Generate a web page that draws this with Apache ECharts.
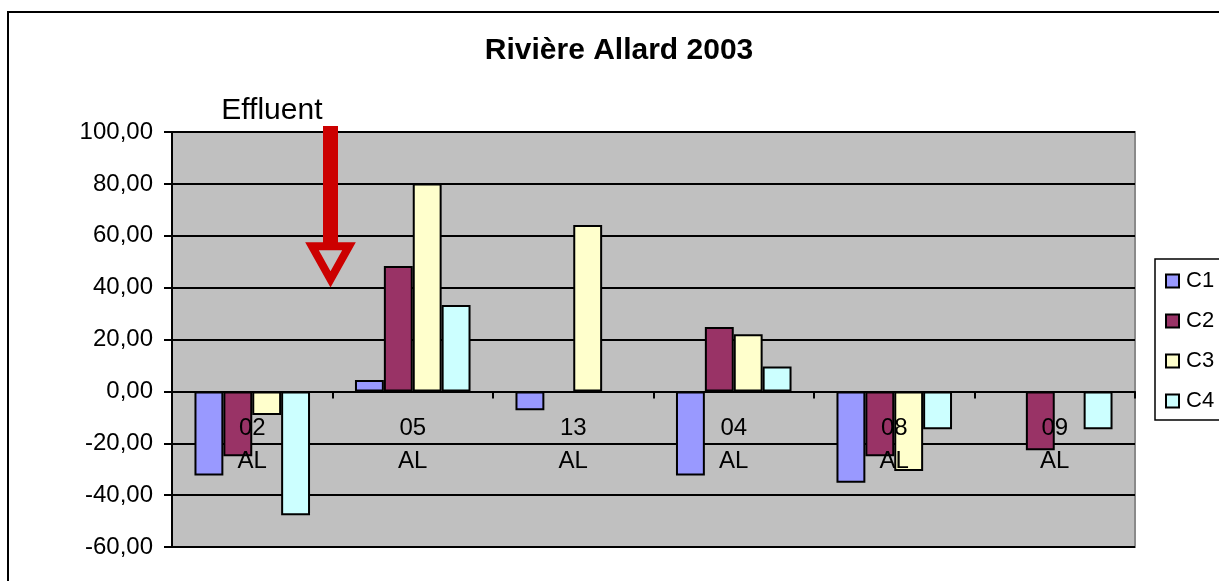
<!DOCTYPE html>
<html>
<head>
<meta charset="utf-8">
<script src="https://cdn.jsdelivr.net/npm/echarts@6/dist/echarts.min.js"></script>
<style>
html,body{margin:0;padding:0;background:#fff;}
#chart{width:1219px;height:581px;}
</style>
</head>
<body>
<div id="chart"></div>
<script>
const categories = ['02\nAL', '05\nAL', '13\nAL', '04\nAL', '08\nAL', '09\nAL'];
const seriesNames = ['C1', 'C2', 'C3', 'C4'];
const c1 = [-32.4, 4.4, -7.3, -32.4, -35.2, null];
const c2 = [-25.0, 48.3, null, 24.8, -25.0, -22.7];
const c3 = [-9.1, 80.1, 64.1, 22.0, -30.7, null];
const c4 = [-47.8, 33.3, null, 9.6, -14.6, -14.6];
const yTicks = { min: -60, max: 100, interval: 20 };
const colors = ['#9999FF', '#993366', '#FFFFCC', '#CCFFFF'];

const seriesData = [c1, c2, c3, c4];
const FONT = '"Liberation Sans", Arial, sans-serif';

const chart = echarts.init(document.getElementById('chart'), null, { renderer: 'canvas' });

const option = {
  backgroundColor: '#ffffff',
  animation: false,
  title: {
    text: 'Rivière Allard 2003',
    left: 614, top: 31, textAlign: 'center',
    textStyle: { fontFamily: FONT, fontSize: 30, fontWeight: 'bold', color: '#000' }
  },
  legend: {
    orient: 'vertical',
    left: 1155, top: 259,
    padding: [11, 10, 8, 10],
    itemGap: 18,
    itemWidth: 13, itemHeight: 13,
    borderColor: '#000', borderWidth: 1.5,
    textStyle: { fontFamily: FONT, fontSize: 22, color: '#000', padding: [0, 0, 0, 2] },
    data: seriesNames.map(n => ({ name: n, icon: 'rect' }))
  },
  grid: {
    left: 172, right: 84, top: 132, bottom: 34,
    containLabel: false, outerBoundsMode: 'none',
    show: true, backgroundColor: '#C0C0C0', borderColor: '#8a8a8a', borderWidth: 2
  },
  xAxis: [
    {
      type: 'category',
      data: categories,
      z: 10,
      axisLine: { onZero: true, lineStyle: { color: '#000', width: 2 } },
      axisTick: { show: true, inside: false, length: 7, lineStyle: { color: '#000', width: 2 } },
      axisLabel: { show: false },
      splitLine: { show: false }
    },
    {
      type: 'category',
      data: categories,
      position: 'bottom',
      offset: 0,
      z: 10,
      axisLine: { show: false, onZero: false },
      axisTick: { show: false },
      axisLabel: {
        fontFamily: FONT, fontSize: 24, color: '#000',
        lineHeight: 33, margin: 20
      },
      splitLine: { show: false }
    }
  ],
  yAxis: {
    type: 'value',
    min: yTicks.min, max: yTicks.max, interval: yTicks.interval,
    axisLine: { show: true, onZero: false, lineStyle: { color: '#000', width: 2 } },
    axisTick: { show: true, length: 8, lineStyle: { color: '#000', width: 2 } },
    axisLabel: {
      fontFamily: FONT, fontSize: 24, color: '#000', margin: 19,
      formatter: v => v.toFixed(2).replace('.', ',')
    },
    splitLine: { show: true, lineStyle: { color: '#000', width: 2 } }
  },
  series: seriesNames.map((n, i) => ({
    name: n,
    type: 'bar',
    xAxisIndex: 0,
    data: seriesData[i],
    barGap: '0%',
    barCategoryGap: '28%',
    itemStyle: { color: colors[i], borderColor: '#000', borderWidth: 2 }
  }))
};

chart.setOption(option);

// Position the category labels next to the zero line, using the chart's own scale
const yZero = chart.convertToPixel({ yAxisIndex: 0 }, 0);
const yBottom = chart.convertToPixel({ yAxisIndex: 0 }, yTicks.min);
chart.setOption({ xAxis: [{}, { offset: -(yBottom - yZero) }] });

// Annotation arrow placed via the chart's own scales
const xa = chart.convertToPixel({ xAxisIndex: 0 }, 0);
const xb = chart.convertToPixel({ xAxisIndex: 0 }, 1);
const cx = (xa + xb) / 2 - 2;
const yTop = chart.convertToPixel({ yAxisIndex: 0 }, 100) - 6;
const yHead = chart.convertToPixel({ yAxisIndex: 0 }, 57.5);
const yTip = chart.convertToPixel({ yAxisIndex: 0 }, 40.5);

chart.setOption({
  graphic: [
    {
      type: 'rect', z: 100, silent: true,
      shape: { x: 8, y: 12, width: 1300, height: 700 },
      style: { fill: 'none', stroke: '#000', lineWidth: 2 }
    },
    {
      type: 'rect', z: 100, silent: true,
      shape: { x: cx - 7.5, y: yTop, width: 15, height: yHead - yTop + 2 },
      style: { fill: '#CC0000' }
    },
    {
      type: 'polygon', z: 100, silent: true,
      shape: { points: [[cx - 18.5, yHead + 4], [cx + 18.5, yHead + 4], [cx, yTip - 7]] },
      style: { fill: 'none', stroke: '#CC0000', lineWidth: 8, lineJoin: 'miter' }
    },
    {
      type: 'text', z: 100, silent: true,
      x: cx - 8, y: yTop,
      style: {
        text: 'Effluent', fill: '#000', font: '30px "Liberation Sans", Arial, sans-serif',
        align: 'right', verticalAlign: 'bottom'
      }
    }
  ]
});
</script>
</body>
</html>
